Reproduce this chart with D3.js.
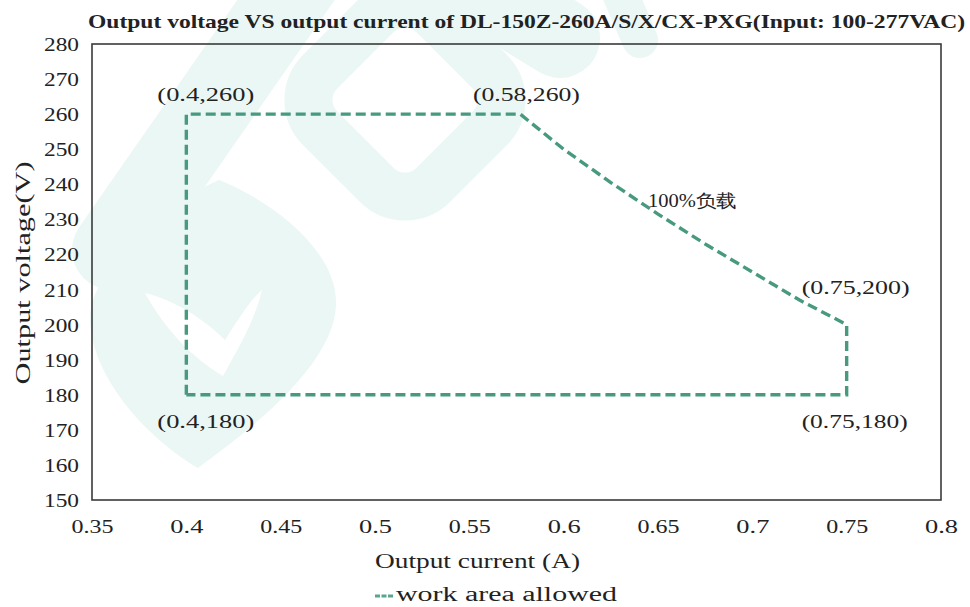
<!DOCTYPE html>
<html><head><meta charset="utf-8">
<script src="https://cdn.jsdelivr.net/npm/d3@7"></script>
<style>
html,body{margin:0;padding:0;background:#fff;}
svg text{font-family:"Liberation Serif","DejaVu Serif",serif;fill:#222;}
</style></head>
<body>
<svg id="c" width="970" height="607"></svg>
<script>
// ---- data ----
const chartTitle = "Output voltage VS output current of DL-150Z-260A/S/X/CX-PXG(Input: 100-277VAC)";
const xTicks = [0.35,0.4,0.45,0.5,0.55,0.6,0.65,0.7,0.75,0.8];
const yTicks = [150,160,170,180,190,200,210,220,230,240,250,260,270,280];
const workCurrent = [0.4, 0.4, 0.577, 0.6, 0.625, 0.65, 0.675, 0.7, 0.725, 0.75, 0.75, 0.4];
const workVoltage = [180, 260, 260, 250, 240.5, 231.5, 223, 215, 207, 200, 180, 180];
const annoText = ["(0.4,260)","(0.58,260)","100%负载","(0.75,200)","(0.4,180)","(0.75,180)"];
const annoX = [0.4, 0.58, 0.65, 0.75, 0.4, 0.75];
const annoY = [260, 260, 240, 200, 180, 180];

const W=970,H=607;
const m={l:92,t:44,r:941,b:500};
const svg=d3.select("#c");
const x=d3.scaleLinear().domain([0.35,0.8]).range([m.l,m.r]);
const y=d3.scaleLinear().domain([150,280]).range([m.b,m.t]);

// ---- faint watermark ----
const wmc="#ebf7f5";
const wm=svg.append("g").attr("fill",wmc).attr("stroke",wmc);
wm.append("line").attr("x1",112).attr("y1",250).attr("x2",300).attr("y2",-20)
  .attr("stroke-width",80).attr("stroke-linecap","round");
wm.append("line").attr("x1",400).attr("y1",-60).attr("x2",560).attr("y2",38)
  .attr("stroke-width",80).attr("stroke-linecap","round");
wm.append("rect").attr("transform","translate(405,100) rotate(45)")
  .attr("x",-80).attr("y",-80).attr("width",160).attr("height",160).attr("rx",40)
  .attr("fill","none").attr("stroke-width",48);
wm.append("path").attr("stroke","none").attr("fill-rule","evenodd")
  .attr("d","M198,468 C150,440 92,380 90,320 C88,270 170,200 219,180 C270,200 338,250 336,305 C334,365 250,430 198,468 Z M145,293 C165,330 195,360 223,376 C240,345 255,320 262,290 C250,300 238,320 225,340 C205,320 175,300 145,293 Z");
wm.append("line").attr("x1",610).attr("y1",-30).attr("x2",640).attr("y2",40)
  .attr("stroke-width",36).attr("stroke-linecap","round");

// ---- frame ----
svg.append("rect").attr("x",m.l).attr("y",m.t).attr("width",m.r-m.l).attr("height",m.b-m.t)
  .attr("fill","none").attr("stroke","#3a3a3a").attr("stroke-width",1.6);

// ---- axes (labels only) ----
const yAxis=d3.axisLeft(y).tickValues(yTicks).tickSize(0).tickPadding(13).tickFormat(d3.format("d"));
const gy=svg.append("g").attr("transform",`translate(${m.l},0)`).call(yAxis);
gy.select(".domain").remove();
gy.selectAll("text").attr("font-size",19).attr("font-family","Liberation Serif")
  .attr("fill","#222").attr("dy","0.34em")
  .attr("textLength",35).attr("lengthAdjust","spacingAndGlyphs");

const xAxis=d3.axisBottom(x).tickValues(xTicks).tickSize(0).tickPadding(20).tickFormat(d=>String(+d.toFixed(2)));
const gx=svg.append("g").attr("transform",`translate(0,${m.b})`).call(xAxis);
gx.select(".domain").remove();
gx.selectAll("text").attr("font-size",19).attr("font-family","Liberation Serif")
  .attr("fill","#222").attr("dy","0.71em")
  .attr("textLength",d=>String(+d.toFixed(2)).length>3?42:33).attr("lengthAdjust","spacingAndGlyphs");

// ---- title ----
svg.append("text").attr("x",88).attr("y",28).attr("font-size",19).attr("font-weight","bold")
  .attr("textLength",877).attr("lengthAdjust","spacingAndGlyphs").text(chartTitle);

// ---- axis titles ----
svg.append("text").attr("x",375).attr("y",568).attr("font-size",20)
  .attr("textLength",205).attr("lengthAdjust","spacingAndGlyphs").text("Output current (A)");
svg.append("text").attr("transform","translate(30,273) rotate(-90)").attr("text-anchor","middle")
  .attr("font-size",20).attr("textLength",223).attr("lengthAdjust","spacingAndGlyphs").text("Output voltage(V)");

// ---- work area line ----
const pts=workCurrent.map((c,i)=>[c,workVoltage[i]]);
const line=d3.line().x(d=>x(d[0])).y(d=>y(d[1]));
svg.append("path").datum(pts).attr("d",line).attr("fill","none")
  .attr("stroke","#47997f").attr("stroke-width",3.4).attr("stroke-dasharray","10,5")
  .attr("stroke-linejoin","miter");

// ---- annotations ----
const annoDx=[-29,-53,-10,-45,-29,-45];
const annoDy=[-13,-13,23,-31,33,33];
const annoLen=[97,107,89,108,97,106];
annoText.forEach((t,i)=>{
  const tx=svg.append("text").attr("font-size",18)
    .attr("x",x(annoX[i])+annoDx[i]).attr("y",y(annoY[i])+annoDy[i])
    .attr("textLength",annoLen[i]).attr("lengthAdjust","spacingAndGlyphs");
  if(t.indexOf("负载")>=0){
    tx.attr("font-family","Liberation Serif, Noto Sans CJK SC");
  }
  tx.text(t);
});

// ---- legend ----
const lg=svg.append("g");
lg.append("line").attr("x1",375).attr("x2",393).attr("y1",596).attr("y2",596)
  .attr("stroke","#5aa58e").attr("stroke-width",3).attr("stroke-dasharray","5,1.5");
lg.append("text").attr("x",396).attr("y",601).attr("font-size",20)
  .attr("textLength",221).attr("lengthAdjust","spacingAndGlyphs").text("work area allowed");
</script>
</body></html>
